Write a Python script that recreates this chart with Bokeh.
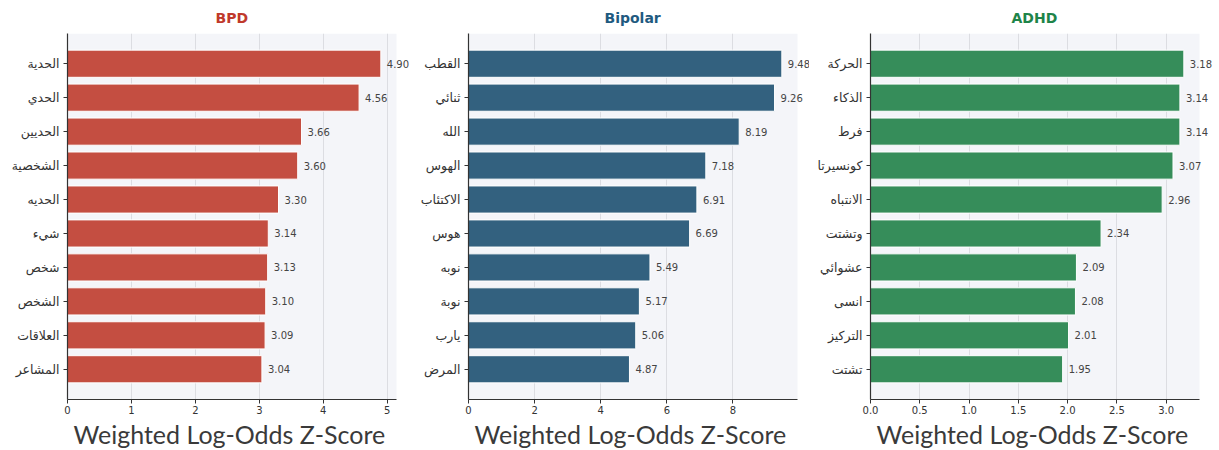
from bokeh.plotting import figure
from bokeh.layouts import row
from bokeh.models import FactorRange, Range1d, ColumnDataSource, FixedTicker, BoxAnnotation, Title
from bokeh.core.properties import value
from bokeh.embed import file_html
from bokeh.resources import INLINE

bpd_words = ["الحدية", "الحدي", "الحديين", "الشخصية", "الحديه", "شيء", "شخص", "الشخص", "العلاقات", "المشاعر"]
bpd_scores = [4.90, 4.56, 3.66, 3.60, 3.30, 3.14, 3.13, 3.10, 3.09, 3.04]

bip_words = ["القطب", "ثنائي", "الله", "الهوس", "الاكتئاب", "هوس", "نوبه", "نوبة", "يارب", "المرض"]
bip_scores = [9.48, 9.26, 8.19, 7.18, 6.91, 6.69, 5.49, 5.17, 5.06, 4.87]

adhd_words = ["الحركة", "الذكاء", "فرط", "كونسيرتا", "الانتباه", "وتشتت", "عشوائي", "انسى", "التركيز", "تشتت"]
adhd_scores = [3.18, 3.14, 3.14, 3.07, 2.96, 2.34, 2.09, 2.08, 2.01, 1.95]

titles = ["BPD", "Bipolar", "ADHD"]
title_colors = ["#c0392b", "#1f5a80", "#1e8449"]
bar_colors = ["#c44e41", "#33617f", "#368d5a"]
x_ticks = [[0, 1, 2, 3, 4, 5], [0, 2, 4, 6, 8], [0.0, 0.5, 1.0, 1.5, 2.0, 2.5, 3.0]]
x_label = "Weighted Log-Odds Z-Score"

panels = [(bpd_words, bpd_scores), (bip_words, bip_scores), (adhd_words, adhd_scores)]
# (left border, extra px right of the data area for value labels, title offset)
layout_px = [(67, 16, 148), (56, 12, 136), (61, 14, 141)]
DATA_W = 329

figs = []
for i, (words, scores) in enumerate(panels):
    factors = list(reversed(words))
    xmax = max(scores) * 1.05
    lb, ext, toff = layout_px[i]
    xend = xmax * (DATA_W + ext) / DATA_W
    p = figure(
        frame_width=DATA_W + ext, frame_height=366,
        y_range=FactorRange(factors=factors, range_padding=0.078),
        x_range=Range1d(0, xend),
        output_backend="svg", toolbar_location=None,
        min_border_left=lb, min_border_right=0,
        min_border_top=2, min_border_bottom=2,
    )
    p.title.text = titles[i]
    p.title.align = "left"
    p.title.offset = toff
    p.title.text_color = title_colors[i]
    p.title.text_font = "DejaVu Sans"
    p.title.text_font_size = "14px"
    p.title.text_font_style = "bold"
    p.title.standoff = 15

    p.background_fill_color = "white"
    p.border_fill_color = "white"
    p.outline_line_color = None
    p.add_layout(BoxAnnotation(left=0, right=xmax, fill_color="#f4f5f9",
                               fill_alpha=1, line_color=None, level="image"))

    src = ColumnDataSource(dict(word=words, score=scores,
                                label=["%.2f" % s for s in scores]))
    p.hbar(y="word", right="score", left=0, height=0.8, source=src,
           fill_color=bar_colors[i], line_color="white", line_width=1)
    p.text(x="score", y="word", text="label", source=src,
           x_offset=6, text_align="left", text_baseline="middle",
           text_font=value("DejaVu Sans"),
           text_font_size="10px", text_color="#444444")

    p.ygrid.grid_line_color = None
    p.xgrid.grid_line_color = "#dcdde2"
    p.xgrid.grid_line_width = 1
    p.xaxis.ticker = FixedTicker(ticks=x_ticks[i])
    p.xaxis.bounds = (0, xmax)
    if i == 2:
        p.xaxis.major_label_overrides = {t: "%.1f" % t for t in x_ticks[i]}

    for ax in (p.xaxis[0], p.yaxis[0]):
        ax.axis_line_color = "#333333"
        ax.axis_line_width = 1.2
        ax.major_tick_line_color = "#333333"
        ax.major_tick_in = 0
        ax.major_tick_out = 4
        ax.minor_tick_line_color = None
        ax.major_label_text_color = "#333333"
    p.xaxis.major_label_text_font = "DejaVu Sans"
    p.xaxis.major_label_text_font_size = "10px"
    p.xaxis.major_label_standoff = 2
    p.yaxis.major_label_text_font = "DejaVu Sans"
    p.yaxis.major_label_text_font_size = "12.5px"
    p.yaxis.major_label_standoff = 4

    p.add_layout(Title(text=x_label, align="left", offset=6,
                       text_font="Lato", text_font_size="25px",
                       text_font_style="normal", text_color="#3a3a3a",
                       standoff=0), "below")
    figs.append(p)

layout = row(*figs, spacing=0)
open("out.html", "w").write(file_html(layout, INLINE))
